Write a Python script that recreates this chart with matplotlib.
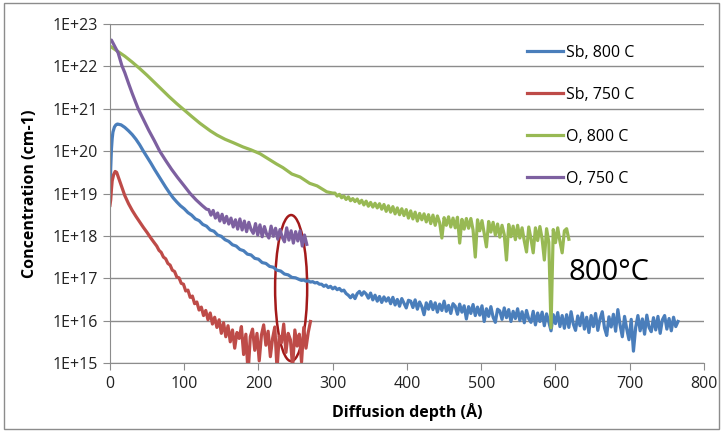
import numpy as np
import matplotlib
matplotlib.use('Agg')
import matplotlib.pyplot as plt
from matplotlib.patches import Ellipse, Rectangle
from matplotlib.ticker import FuncFormatter, FixedLocator, NullLocator

plt.rcParams['font.family'] = ['Open Sans', 'DejaVu Sans']

# depth in Angstrom, concentration stored as log10 (cm-1)
sb800_depth = [0, 1, 2, 3, 4, 6, 8, 10, 15, 20, 25, 30, 35, 40, 45, 50, 55, 60, 65,
               70, 75, 80, 85, 90, 95] + list(range(100, 251, 5)) + \
    list(range(255, 766, 3))
sb800_log = [18.9, 19.6, 20.05, 20.3, 20.45, 20.57, 20.62, 20.64, 20.62, 20.56, 20.48,
             20.39, 20.28, 20.15, 20.0, 19.86, 19.72, 19.57, 19.43, 19.29, 19.15,
             19.02, 18.9, 18.8, 18.71,
             18.64, 18.55, 18.49, 18.40, 18.36, 18.27, 18.23, 18.14, 18.11, 18.02,
             17.99, 17.91, 17.87, 17.79, 17.76, 17.68, 17.65, 17.57, 17.55, 17.47,
             17.45, 17.37, 17.35, 17.28, 17.26, 17.19, 17.17, 17.10, 17.08, 17.02,
             17.01,
             16.97, 16.95, 16.96, 16.93, 16.94, 16.91, 16.92, 16.89, 16.90, 16.86,
             16.86, 16.81, 16.84, 16.78, 16.81, 16.75, 16.79, 16.73, 16.76, 16.70,
             16.72, 16.64, 16.60, 16.54, 16.61, 16.52, 16.64, 16.69, 16.60, 16.68,
             16.63, 16.53, 16.65, 16.49, 16.60, 16.46, 16.57, 16.43, 16.56, 16.46,
             16.54, 16.40, 16.55, 16.37, 16.50, 16.34, 16.52, 16.41, 16.30, 16.48,
             16.46, 16.31, 16.49, 16.27, 16.44, 16.33, 16.14, 16.42, 16.27, 16.45,
             16.26, 16.42, 16.20, 16.39, 16.24, 16.46, 16.22, 16.36, 16.17, 16.40,
             16.34, 16.15, 16.39, 16.20, 16.35, 16.04, 16.33, 16.17, 16.38, 16.12,
             16.32, 16.13, 16.35, 15.98, 16.28, 16.10, 16.33, 16.08, 15.96, 16.27,
             16.23, 16.03, 16.30, 16.07, 16.26, 15.98, 16.22, 16.05, 16.28, 16.00,
             16.21, 15.95, 16.24, 16.04, 15.96, 16.22, 15.90, 16.18, 15.98, 16.20,
             15.88, 16.16, 15.97, 15.76, 16.14, 15.93, 16.19, 15.86, 16.12, 15.82,
             16.14, 15.84, 16.21, 15.92, 15.77, 16.11, 15.88, 16.18, 15.80, 16.08,
             15.72, 16.12, 15.86, 16.17, 15.77, 16.04, 16.21, 15.83, 15.65, 16.09,
             15.85, 16.15, 15.75, 16.26, 15.90, 15.62, 16.10, 15.80, 15.55, 16.03,
             15.28, 15.84, 16.12, 15.76, 16.04, 15.68, 16.13, 15.84, 15.74, 16.07,
             15.78, 16.10, 15.70, 16.02, 16.12, 15.80, 16.05, 15.76, 16.08, 15.86,
             15.98]

sb750_depth = [0, 1, 2, 3, 5, 7, 9, 12, 15, 20, 25, 30, 35, 40, 45, 50, 55, 60] + \
    list(range(63, 271, 3))
sb750_log = [18.72, 18.85, 19.1, 19.3, 19.45, 19.52, 19.5, 19.35, 19.2, 18.95, 18.76,
             18.6, 18.46, 18.33, 18.2, 18.08, 17.95, 17.83,
             17.76, 17.66, 17.61, 17.50, 17.46, 17.35, 17.31, 17.19, 17.16, 17.03,
             17.01, 16.88, 16.86, 16.70, 16.72, 16.55, 16.58, 16.40, 16.44, 16.25,
             16.32, 16.12, 16.24, 16.02, 16.18, 15.92, 16.08, 15.84, 16.02, 15.70,
             15.95, 15.62, 15.88, 15.50, 15.78, 15.35, 15.72, 15.58, 15.86, 15.20,
             15.68, 14.75, 15.62, 15.80, 15.30, 15.70, 15.05, 15.66, 15.90, 15.42,
             15.75, 15.15, 15.58, 15.85, 14.85, 15.64, 15.48, 15.92, 15.25, 15.70,
             15.55, 14.90, 15.78, 15.40, 15.68, 15.02, 15.84, 15.35, 15.72, 15.98]

o800_depth = [0, 5, 11, 20, 30, 40, 50, 60, 70, 80, 90, 98, 110, 121, 135, 144, 155,
              166, 179, 190, 202, 213, 224, 233, 245, 256, 269, 279, 292, 300] + \
    list(range(303, 619, 3))
o800_log = [22.48, 22.42, 22.35, 22.24, 22.1, 21.95, 21.79, 21.62, 21.45, 21.28, 21.12,
            21.0, 20.82, 20.66, 20.48, 20.38, 20.28, 20.2, 20.1, 20.03, 19.94, 19.82,
            19.70, 19.61, 19.46, 19.39, 19.24, 19.18, 19.04, 19.01,
            19.01, 18.94, 18.98, 18.90, 18.94, 18.86, 18.92, 18.83, 18.88, 18.81,
            18.87, 18.77, 18.84, 18.73, 18.82, 18.70, 18.79, 18.68, 18.77, 18.66,
            18.76, 18.63, 18.74, 18.58, 18.71, 18.56, 18.69, 18.52, 18.66, 18.50,
            18.64, 18.48, 18.62, 18.42, 18.59, 18.40, 18.56, 18.35, 18.53, 18.38,
            18.52, 18.33, 18.50, 18.29, 18.49, 18.25, 18.47, 18.31, 17.95, 18.43,
            18.25, 18.45, 18.21, 18.42, 18.19, 18.44, 17.83, 18.39, 18.16, 18.41,
            18.18, 18.41, 18.14, 17.50, 18.38, 18.12, 18.36, 18.06, 17.74, 18.34,
            18.09, 18.32, 18.02, 18.28, 17.97, 18.25, 18.03, 17.43, 18.27, 17.98,
            18.23, 17.91, 18.25, 17.95, 18.19, 17.88, 17.62, 18.21, 17.93, 17.60,
            18.19, 17.89, 18.22, 17.93, 17.43, 18.17, 17.85, 15.83, 18.15, 17.84,
            18.19, 17.87, 17.60, 18.12, 18.17, 17.92]

o750_depth = [0, 2, 5, 8, 11, 14, 16, 20, 25, 30, 38, 45, 52, 60, 67, 75, 83, 91, 100,
              108, 116, 124, 130] + list(range(133, 267, 3))
o750_log = [22.62, 22.62, 22.52, 22.42, 22.32, 22.14, 22.02, 21.85, 21.6, 21.36, 21.0,
            20.75, 20.5, 20.24, 20.0, 19.78, 19.57, 19.38, 19.18, 19.0, 18.85, 18.72,
            18.63,
            18.62, 18.49, 18.60, 18.42, 18.54, 18.35, 18.51, 18.31, 18.46, 18.28,
            18.42, 18.21, 18.38, 18.16, 18.40, 18.14, 18.35, 18.10, 18.32, 18.15,
            18.06, 18.29, 18.02, 18.26, 17.98, 18.22, 18.04, 17.95, 18.23, 17.99,
            18.18, 17.92, 18.15, 17.97, 17.86, 18.19, 17.90, 18.12, 17.83, 18.10,
            17.88, 18.12, 17.76, 18.02, 17.80]

series = [
    ('Sb, 800 C', sb800_depth, sb800_log, '#4A7EBB'),
    ('Sb, 750 C', sb750_depth, sb750_log, '#BE4B48'),
    ('O, 800 C', o800_depth, o800_log, '#98B954'),
    ('O, 750 C', o750_depth, o750_log, '#7D60A0'),
]

x_ticks = list(range(0, 801, 100))
y_decades = list(range(15, 24))

fig = plt.figure(figsize=(7.23, 4.32), dpi=100)
ax = fig.add_axes([0.1521, 0.1597, 0.8216, 0.7847])

for name, d, lg, c in series:
    ax.plot(d, 10.0 ** np.array(lg), color=c, lw=2.3, label=name,
            solid_joinstyle='round')

ax.set_yscale('log')
ax.set_ylim(1e15, 1e23)
ax.set_xlim(0, 800)
ax.yaxis.set_major_locator(FixedLocator([10.0 ** k for k in y_decades]))
ax.yaxis.set_minor_locator(NullLocator())
ax.yaxis.set_major_formatter(FuncFormatter(lambda v, p: '1E+%d' % round(np.log10(v))))
ax.set_xticks(x_ticks)

ax.grid(axis='y', color='#8c8c8c', lw=1)
ax.set_axisbelow(True)
for s in ['top', 'right']:
    ax.spines[s].set_visible(False)
for s in ['left', 'bottom']:
    ax.spines[s].set_color('#8c8c8c')
ax.tick_params(axis='both', direction='out', length=5, color='#8c8c8c',
               labelsize=11.5, labelcolor='#222222', pad=4)

ax.set_xlabel('Diffusion depth (Å)', fontsize=11.5, fontweight='bold', labelpad=8)
ax.set_ylabel('Concentration (cm-1)', fontsize=11.5, fontweight='bold', labelpad=10)

ax.legend(loc='upper left', bbox_to_anchor=(0.702, 0.938), frameon=False,
          borderpad=0, borderaxespad=0, fontsize=11.5, handlelength=2.25,
          handletextpad=0.2, labelspacing=1.62)

# annotation
ax.add_patch(Ellipse((0.305, 0.221), 0.054, 0.431, transform=ax.transAxes,
                     fill=False, edgecolor='#A31A1A', lw=1.8, clip_on=False))
ax.text(617, 10 ** 16.96, '800°C', fontsize=21, va='baseline', ha='left')

fig.patches.append(Rectangle((0.005, 0.006), 0.989, 0.987, transform=fig.transFigure,
                             fill=False, edgecolor='#8c8c8c', lw=1))

fig.savefig('out.png', dpi=100)
